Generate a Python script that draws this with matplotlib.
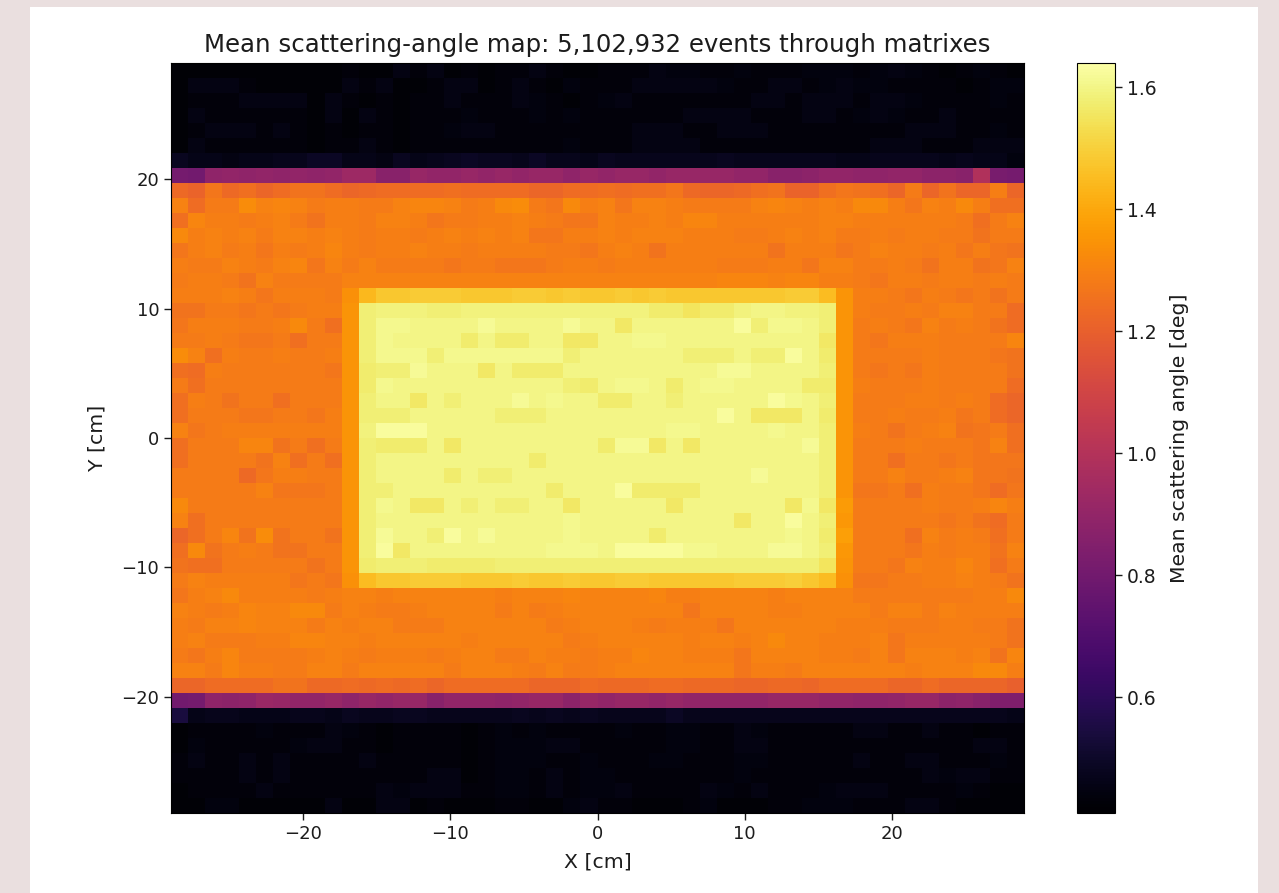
import numpy as np
import matplotlib
matplotlib.use("Agg")
import matplotlib.pyplot as plt
from matplotlib.patches import Rectangle

# mean angle per cell in hundredths of a degree, top row first
top_dark = [
    [42,42,42,42,42,42,42,42,42,42, 43,42,42,45,43,45,42,43,42,43, 43,45,43,42,42, 43,43,43,45,44, 44,43,43,44,43, 43,43,44,44,44, 43,44,45,44,43, 42,43,44,43,42],
    [42,45,45,45,43,42,42,42,42,42, 45,43,45,42,42,43,45,45,42,43, 45,43,42,44,43, 43,43,45,45,45, 45,45,44,43,43, 45,45,43,44,45, 44,44,43,43,43, 43,42,43,44,44],
    [42,43,43,43,45,45,45,45,42,45, 43,42,43,42,43,43,45,43,43,43, 45,44,43,42,43, 44,45,43,43,43, 43,43,43,43,45, 45,43,45,45,45, 43,45,45,44,43, 43,43,43,44,43],
    [42,45,43,43,43,43,43,43,42,45, 42,45,43,42,43,43,43,44,43,43, 43,44,43,44,43, 43,43,43,43,43, 45,45,45,45,43, 43,43,45,45,43, 44,45,44,43,43, 45,43,43,43,43],
    [42,43,45,45,45,43,45,43,42,43, 42,43,43,42,43,43,44,45,45,43, 43,43,43,43,43, 43,43,45,45,45, 43,43,45,45,45, 43,43,43,43,43, 43,43,43,45,45, 45,43,43,44,43],
    [42,45,43,43,43,43,43,43,42,43, 43,45,43,42,43,43,43,43,43,43, 43,43,43,44,43, 43,43,45,45,45, 45,43,43,43,43, 43,43,43,43,43, 43,45,45,45,43, 43,43,45,45,45],
    [48,46,46,45,46,46,47,47,49,49, 46,46,45,48,46,47,48,49,48,48, 47,49,47,47,46, 48,47,47,47,47, 47,47,48,47,47, 47,47,47,47,46, 46,47,47,47,47, 46,47,46,46,44],
]
top_edge = [
    [81,80,89,90,89,90,89,90,89,90, 93,93,87,87,91,90,90,91,90,91, 90,91,91,89,91, 90,91,91,90,91, 91,91,91,90,90, 87,87,88,90,90, 89,89,90,90,88, 88,87,99,82,81],
]
upper_band = [
    [123,121,127,123,125,122,124,126,126,124, 122,123,124,124,124,124,125,124,124,124, 124,122,122,124,124, 125,124,125,125,127, 123,122,122,123,125, 126,121,121,125,127, 126,125,122,128,122, 126,122,122,129,122],
    [130,124,128,128,133,130,131,130,128,129, 129,128,128,130,131,131,130,128,129,132, 133,128,127,132,129, 130,127,130,130,129, 128,128,128,128,130, 131,130,129,130,129, 132,132,129,127,130, 129,132,129,125,125],
    [125,131,129,129,128,129,130,128,126,129, 129,128,130,130,129,127,128,128,129,129, 130,129,128,127,127, 130,129,129,130,129, 131,131,129,129,129, 129,129,129,130,130, 129,129,129,129,129, 129,128,125,128,130],
    [132,129,130,129,130,128,130,130,129,130, 129,128,129,129,128,129,130,129,130,129, 130,127,127,129,129, 130,129,130,130,130, 129,129,129,128,128, 129,130,129,130,128, 128,129,128,129,129, 128,128,126,128,128],
    [127,129,130,128,129,127,129,128,129,131, 129,128,129,129,130,129,129,128,129,129, 129,129,128,128,127, 129,130,129,126,129, 129,129,129,129,129, 126,129,129,129,127, 128,130,129,129,128, 129,127,129,127,126],
    [129,128,128,130,129,128,130,131,127,130, 128,130,128,128,128,128,127,128,128,127, 127,127,128,129,129, 128,129,129,129,129, 129,129,128,128,128, 129,129,127,130,130, 128,128,129,128,126, 129,129,126,127,130],
    [128,129,129,128,126,130,128,128,128,128, 130,130,130,130,130,130,130,130,130,130, 130,130,130,130,130, 130,130,130,130,130, 130,130,131,131,131, 130,131,131,129,129, 128,127,129,129,128, 129,129,128,129,128],
]
border_top = [
    [129,129,129,130,129,127,129,129,129,128, 134,144,148,148,149,149,149,148,148,148, 149,149,148,149,148, 148,149,148,149,148, 148,148,148,148,148, 148,149,149,145,135, 129,129,128,127,129, 128,127,128,126,128],
]
box_rows = [
    [126,126,128,128,127,128,127,128,129,129, 135,158,159,159,159,158,158,159,159,159, 159,159,159,159,159, 159,159,159,157,157, 155,157,157,159,160, 160,159,159,158,135, 129,128,128,129,128, 130,130,128,128,124],
    [127,129,129,129,128,128,129,132,128,125, 135,158,161,161,160,160,160,160,162,160, 160,160,160,162,160, 160,156,160,160,160, 160,160,160,163,158, 161,161,160,158,135, 128,129,128,127,130, 128,129,128,126,124],
    [128,128,129,128,127,127,128,125,128,128, 135,158,161,160,160,160,160,157,160,157, 157,160,160,156,156, 160,160,161,161,160, 160,160,160,160,160, 160,160,160,156,135, 128,127,129,129,129, 128,128,128,128,131],
    [133,130,125,129,128,128,129,128,128,129, 135,158,161,161,161,158,161,161,161,161, 161,161,161,158,160, 160,160,160,160,160, 158,158,158,160,158, 158,163,160,157,135, 128,128,128,128,129, 128,128,128,127,126],
    [125,124,129,128,128,128,128,128,128,127, 135,157,158,158,162,160,160,160,156,160, 157,157,157,160,160, 160,160,160,160,160, 160,160,162,162,160, 160,160,160,158,135, 128,127,128,127,129, 128,128,128,128,126],
    [128,125,128,128,128,128,128,128,128,128, 135,157,161,160,160,160,160,160,160,160, 160,160,160,158,157, 160,161,161,160,157, 160,161,161,160,160, 160,160,157,157,135, 129,128,128,128,129, 128,128,128,128,124],
    [125,129,128,126,128,128,125,128,128,128, 135,158,160,160,156,160,158,160,160,160, 162,160,161,160,160, 157,157,160,160,158, 160,160,160,160,160, 163,161,160,158,135, 128,128,128,129,129, 128,129,128,124,122],
    [125,128,128,128,127,127,128,128,127,129, 135,158,158,158,160,160,160,160,160,158, 158,158,160,160,160, 160,160,160,160,160, 160,160,163,160,156, 156,156,160,157,135, 128,128,129,128,128, 129,127,128,124,122],
    [130,127,128,129,129,129,129,129,129,129, 135,159,163,163,163,160,160,160,160,160, 160,160,160,160,160, 160,160,160,160,161, 161,160,160,160,160, 161,160,160,158,135, 129,128,126,128,129, 130,126,127,128,125],
    [125,128,128,128,131,131,126,128,125,128, 135,158,157,157,157,160,156,160,160,160, 160,160,160,160,160, 157,162,162,156,160, 156,160,160,160,160, 160,160,162,158,135, 128,128,128,129,128, 128,128,127,130,125],
    [125,128,128,128,128,126,130,125,128,125, 135,158,160,160,160,160,160,160,160,160, 160,157,160,160,160, 160,160,160,160,160, 160,160,160,160,160, 160,160,160,158,135, 128,128,125,128,128, 127,128,127,127,127],
    [128,128,128,128,123,127,129,129,128,128, 135,158,160,160,160,160,157,160,158,158, 160,160,160,160,160, 160,160,160,160,160, 160,160,160,160,162, 160,160,160,158,135, 128,128,130,128,128, 129,130,127,127,126],
    [128,128,128,128,128,130,127,127,127,128, 135,158,158,160,160,160,160,160,160,160, 160,160,157,160,160, 160,163,157,157,157, 157,160,160,160,160, 160,160,160,158,135, 127,127,128,125,129, 128,128,127,124,127],
    [132,128,128,128,128,128,128,128,128,128, 135,158,161,160,156,156,160,158,160,158, 158,160,160,156,160, 160,160,160,160,156, 160,160,160,160,160, 160,156,161,156,137, 128,128,128,128,129, 128,128,129,131,129],
    [130,125,128,128,128,128,128,128,128,128, 135,158,160,160,160,160,160,160,160,160, 160,160,160,161,160, 160,160,160,160,160, 160,160,160,156,160, 160,163,160,158,136, 128,128,128,128,128, 127,128,126,124,128],
    [122,125,128,131,126,133,126,128,128,126, 135,158,162,160,160,158,163,160,162,160, 160,160,160,161,160, 160,160,160,157,160, 160,160,160,160,160, 160,161,160,157,138, 128,128,128,125,130, 128,129,128,125,128],
    [125,132,126,128,129,128,126,126,128,128, 135,158,163,156,160,160,160,160,160,160, 160,160,161,161,161, 160,163,163,163,163, 161,161,160,160,160, 162,162,160,158,136, 128,128,128,127,129, 128,129,129,126,130],
    [126,125,125,128,128,128,128,128,126,128, 135,157,158,158,158,157,157,157,157,158, 158,158,158,158,158, 158,158,158,158,158, 158,158,158,158,158, 158,158,158,155,135, 128,128,127,130,129, 129,131,129,125,128],
]
border_bottom = [
    [128,130,129,129,129,129,129,127,128,127, 134,145,148,148,149,149,149,148,148,148, 149,148,148,149,148, 148,149,149,148,148, 148,148,148,149,149, 149,150,148,145,134, 127,127,128,128,129, 129,130,129,128,126],
]
lower_band = [
    [127,129,130,132,129,129,129,129,128,129, 130,130,129,130,130,130,130,130,130,129, 130,130,130,131,130, 130,130,130,131,129, 129,130,130,130,130, 129,130,130,130,130, 128,128,128,128,128, 128,128,129,129,132],
    [130,129,128,129,131,130,130,132,132,128, 130,129,128,128,129,130,130,130,130,128, 130,128,129,130,130, 130,130,130,130,130, 127,130,130,130,130, 129,129,130,130,130, 130,128,130,130,128, 130,129,129,129,129],
    [129,128,130,130,131,130,130,130,128,130, 129,130,130,128,128,128,130,130,130,130, 130,130,128,129,130, 130,130,129,128,129, 129,129,127,130,130, 130,130,130,130,129, 129,129,128,128,128, 129,129,128,128,126],
    [129,130,128,128,128,129,129,131,131,130, 130,129,130,130,130,130,130,129,130,130, 130,130,130,128,129, 130,130,130,130,130, 129,130,130,129,130, 132,130,130,129,129, 129,130,127,129,129, 129,129,129,128,126],
    [128,127,129,131,128,128,128,128,129,130, 129,128,129,129,129,128,129,130,130,128, 128,130,129,129,128, 129,129,131,130,130, 129,129,129,127,130, 130,130,130,129,129, 128,130,127,130,130, 130,129,130,126,131],
    [130,130,128,131,129,129,128,128,130,130, 128,130,130,130,130,130,128,130,130,130, 129,128,130,128,128, 129,130,130,130,130, 130,130,130,127,129, 129,128,130,130,130, 130,130,130,129,130, 130,130,132,132,129],
    [122,122,124,124,124,124,126,126,123,123, 124,123,124,123,124,122,124,124,124,124, 124,122,122,122,124, 123,123,123,124,124, 123,123,123,122,122, 123,123,122,124,124, 124,124,122,122,124, 122,122,122,122,120],
]
bottom_edge = [
    [80,81,89,88,89,92,91,90,90,91, 89,91,90,91,91,87,90,90,90,89, 90,91,91,88,91, 90,91,91,90,91, 90,90,90,90,90, 91,91,91,90,90, 89,89,90,91,91, 88,89,87,84,84],
]
bottom_dark = [
    [54,46,47,47,46,46,46,47,47,46, 48,47,47,48,48,47,47,47,47,47, 48,47,48,47,48, 47,47,47,47,49, 47,47,47,47,47, 47,47,47,47,47, 47,47,47,47,47, 47,47,47,47,46],
    [42,43,43,43,43,44,43,43,43,45, 44,43,42,43,43,43,43,42,43,44, 43,44,43,43,43, 43,44,43,43,44, 44,43,43,45,44, 43,43,43,43,43, 45,45,43,43,45, 43,43,42,43,43],
    [42,44,43,43,43,43,43,44,45,45, 43,43,42,43,43,43,43,42,43,44, 44,44,45,45,43, 43,43,43,43,44, 44,43,43,45,45, 43,43,43,43,43, 43,43,43,43,43, 43,43,45,45,43],
    [43,45,43,43,45,43,45,43,43,43, 43,45,43,43,43,43,43,42,43,44, 44,44,43,43,44, 43,43,43,44,44, 43,43,43,44,44, 43,43,43,43,43, 45,43,43,45,45, 43,43,43,44,43],
    [43,43,43,43,45,43,45,43,43,43, 43,43,43,43,43,45,45,42,43,44, 44,43,45,43,44, 44,43,43,43,43, 43,43,43,44,43, 43,43,43,43,43, 43,43,43,43,45, 44,45,45,43,43],
    [42,43,43,43,43,45,43,43,43,43, 43,43,45,44,45,45,45,43,43,44, 44,43,45,43,44, 44,45,43,43,43, 43,45,44,43,45, 43,43,43,44,45, 45,45,43,43,43, 43,44,43,42,42],
    [42,42,44,44,42,42,42,42,42,45, 42,42,45,45,42,43,42,42,42,43, 43,42,42,44,45, 43,43,42,42,42, 43,44,42,42,42, 43,43,44,44,44, 43,43,43,45,45, 43,42,42,42,42],
]

x_edges = np.linspace(-29, 29, 51)
y_edges = np.linspace(29, -29, 51)
angle = np.vstack([top_dark, top_edge, upper_band, border_top, box_rows,
                   border_bottom, lower_band, bottom_edge, bottom_dark]) / 100

W, H = 1279, 893
fig = plt.figure(figsize=(W / 100, H / 100), dpi=100, facecolor="#eadfdf")
fig.add_artist(Rectangle((30 / W, 0), 1228 / W, 886 / H, transform=fig.transFigure,
                         facecolor="white", edgecolor="none", zorder=-1))

ink = "#1c1c1c"
ax = fig.add_axes([171 / W, (H - 813) / H, 853 / W, 750 / H])
mesh = ax.pcolormesh(x_edges, y_edges, angle, cmap="inferno", vmin=0.41, vmax=1.64)
ax.set_xlim(-29, 29)
ax.set_ylim(-29, 29)
ax.set_xticks([-20, -10, 0, 10, 20])
ax.set_yticks([-20, -10, 0, 10, 20])
ax.tick_params(labelsize=13, length=5, width=1, colors=ink)
ax.set_xlabel("X [cm]", fontsize=14.7, color=ink, labelpad=7)
ax.set_ylabel("Y [cm]", fontsize=14.7, color=ink, labelpad=11)
ax.set_title("Mean scattering-angle map: 5,102,932 events through matrixes",
             fontsize=17.6, color=ink, pad=8)

cax = fig.add_axes([1077 / W, (H - 813) / H, 38 / W, 750 / H])
cbar = fig.colorbar(mesh, cax=cax)
cbar.set_ticks([0.6, 0.8, 1.0, 1.2, 1.4, 1.6])
cbar.ax.tick_params(labelsize=13.5, length=5, width=1, colors=ink)
cbar.set_label("Mean scattering angle [deg]", fontsize=14.7, color=ink, labelpad=10)

fig.savefig("out.png", dpi=100, facecolor=fig.get_facecolor())
